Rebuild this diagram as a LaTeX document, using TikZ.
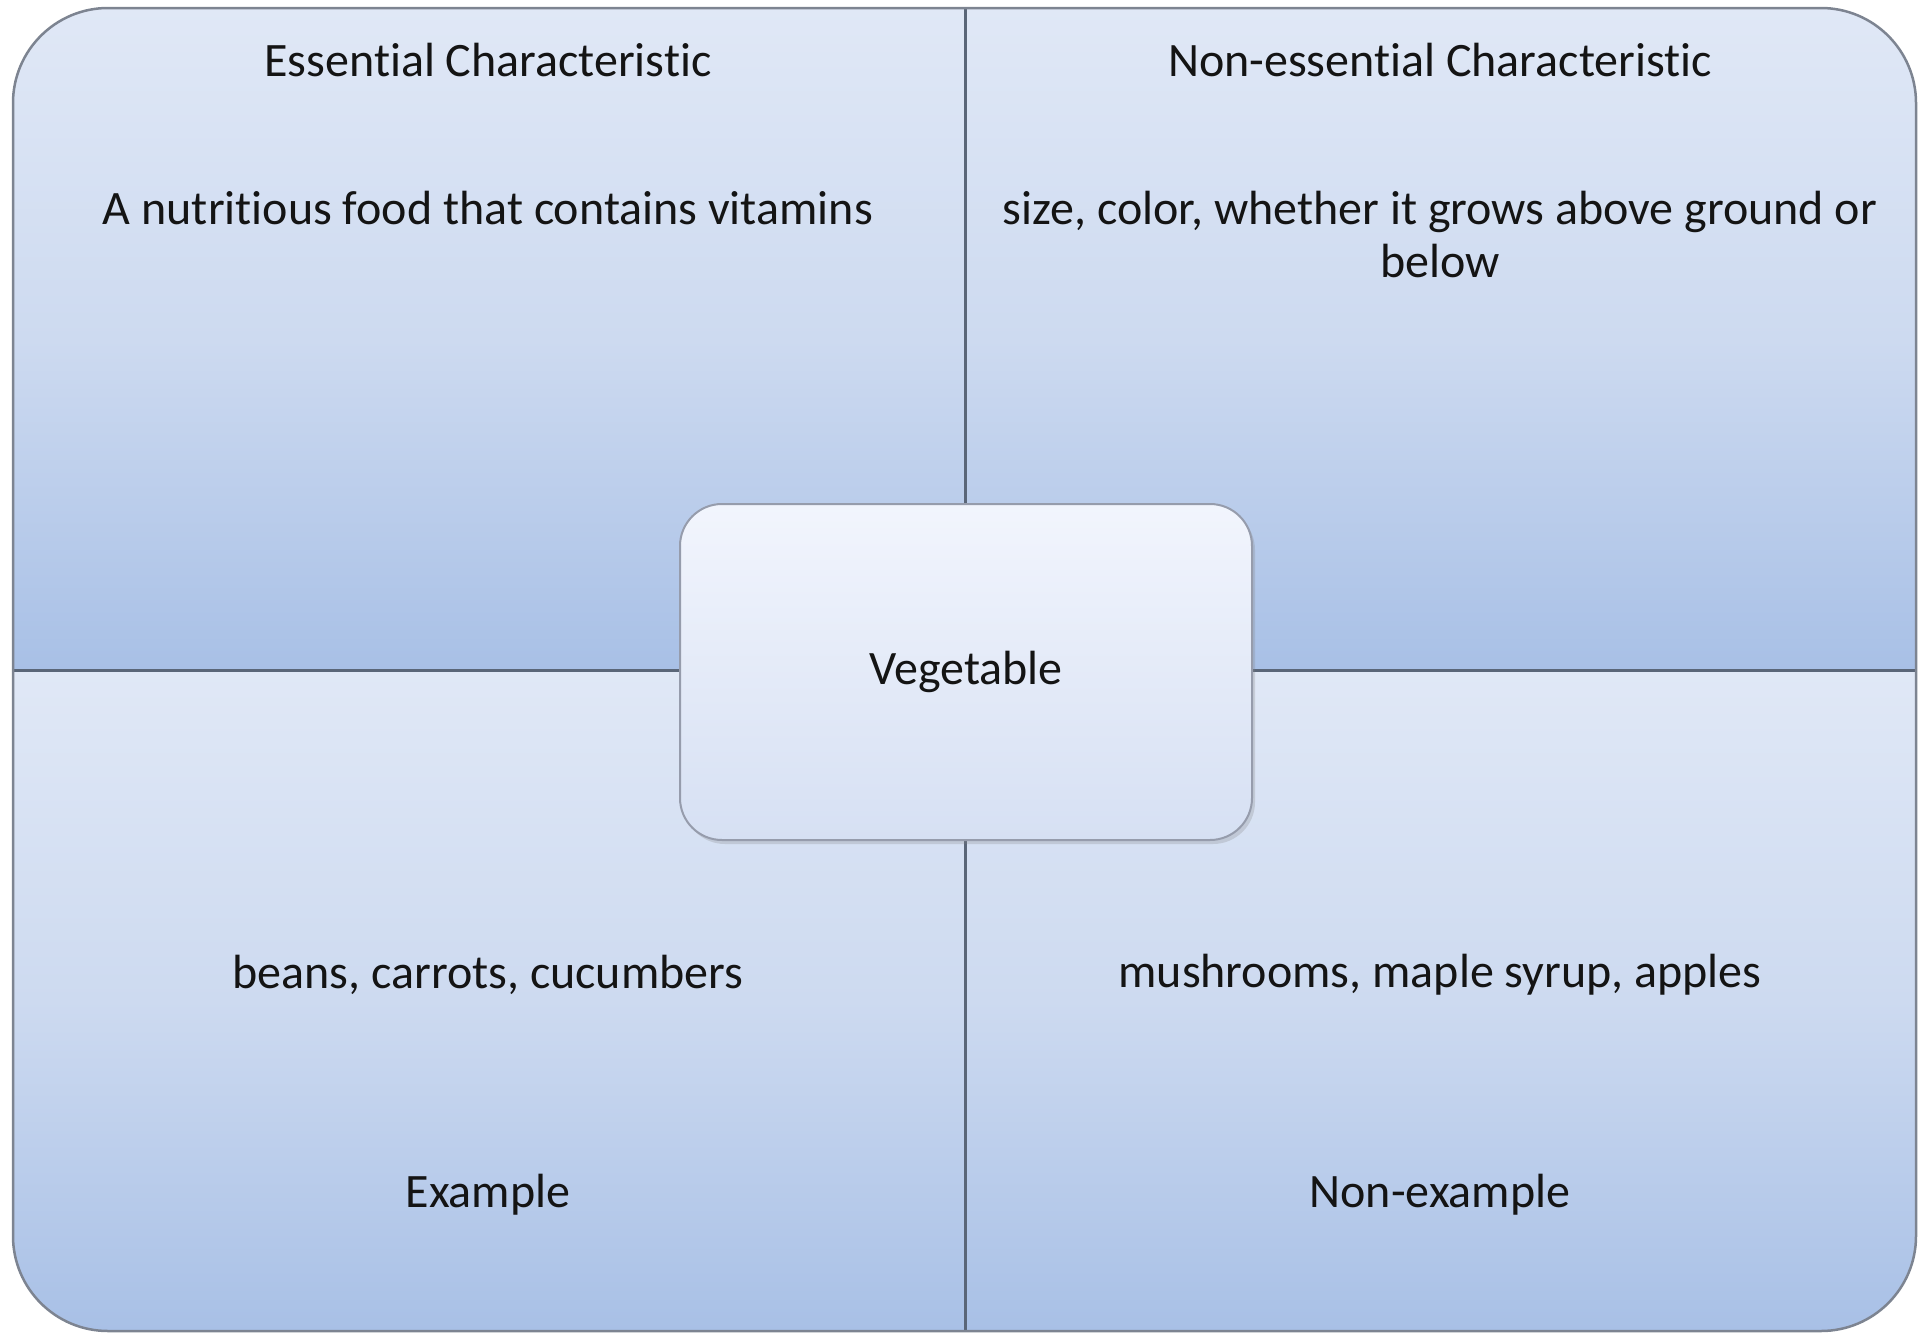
\documentclass[tikz,border=0pt]{standalone}
\usepackage{fontspec}
\setmainfont{Carlito}[Ligatures={NoCommon}]
\usetikzlibrary{shadows}
\definecolor{qtop}{RGB}{224,232,246}
\definecolor{qmid}{RGB}{205,218,240}
\definecolor{qbot}{RGB}{168,192,230}
\definecolor{ctop}{RGB}{242,245,253}
\definecolor{cbot}{RGB}{214,224,243}
\definecolor{divline}{RGB}{90,102,120}
\definecolor{outline}{RGB}{125,132,145}
\definecolor{cline}{RGB}{150,156,172}
\tikzset{
  lbl/.style={font=\fontsize{48}{53}\selectfont, text=black!92, align=center, inner sep=0pt},
  quad/.style={top color=qtop, bottom color=qbot, middle color=qmid},
  centerbox/.style={draw=cline, line width=2pt, rounded corners=42pt,
    top color=ctop, bottom color=cbot, minimum width=572pt, minimum height=336pt,
    drop shadow={shadow xshift=3pt, shadow yshift=-4pt, opacity=0.25}, inner sep=0pt}
}
\begin{document}
\begin{tikzpicture}[x=1pt,y=-1pt]
\useasboundingbox (0,0) rectangle (1928,1333);
\coordinate (tl) at (13,8);
\coordinate (br) at (1916,1331);
\coordinate (vt) at (965,8);
\coordinate (vb) at (965,1331);
\coordinate (hl) at (13,670);
\coordinate (hr) at (1916,670);
\begin{scope}
  \clip[rounded corners=95pt] (tl) rectangle (br);
  \shade[quad] (13,8) rectangle (965,670);
  \shade[quad] (965,8) rectangle (1916,670);
  \shade[quad] (13,670) rectangle (965,1331);
  \shade[quad] (965,670) rectangle (1916,1331);
  \draw[divline, line width=3pt] (vt) -- (vb);
  \draw[divline, line width=3pt] (hl) -- (hr);
\end{scope}
\draw[outline, line width=2.5pt, rounded corners=95pt] (tl) rectangle (br);

\node[centerbox] (veg) at (966,672) {};
\node[lbl] (vegt) at (966,672) {Vegetable};

\node[lbl] (ec) at (488,60) {Essential Characteristic};
\node[lbl] (nec) at (1440,60) {Non-essential Characteristic};
\node[lbl] (ect) at (488,208) {A nutritious food that contains vitamins};
\node[lbl] (nect) at (1440,234) {size, color, whether it grows above ground or\\below};
\node[lbl] (ext) at (488,975) {beans, carrots, cucumbers};
\node[lbl] (nxt) at (1440,975) {mushrooms, maple syrup, apples};
\node[lbl] (ex) at (488,1195) {Example};
\node[lbl] (nx) at (1440,1195) {Non-example};
\end{tikzpicture}
\end{document}
